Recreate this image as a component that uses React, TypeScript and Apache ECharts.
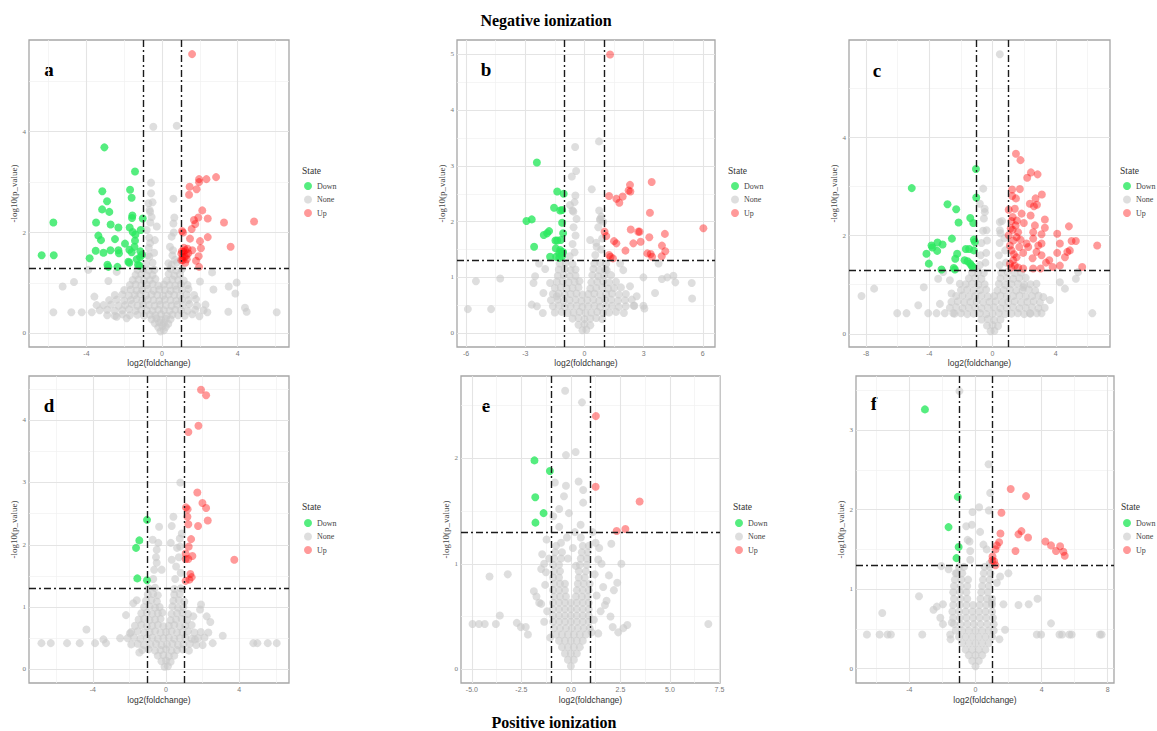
import React, { useEffect, useRef } from "react";
import * as echarts from "echarts";

// ---------- tick values ----------
const xTicksA = [-4, 0, 4];
const xMinorA = [-6, -2, 2, 6];
const yTicksA = [0, 2, 4];
const yMinorA = [1, 3, 5];

const xTicksB = [-6, -3, 0, 3, 6];
const xMinorB = [-4.5, -1.5, 1.5, 4.5];
const yTicksB = [0, 1, 2, 3, 4, 5];
const yMinorB = [0.5, 1.5, 2.5, 3.5, 4.5];

const xTicksC = [-8, -4, 0, 4];
const xMinorC = [-6, -2, 2, 6];
const yTicksC = [0, 2, 4];
const yMinorC = [1, 3, 5];

const xTicksD = [-4, 0, 4];
const xMinorD = [-6, -2, 2, 6];
const yTicksD = [0, 1, 2, 3, 4];
const yMinorD = [0.5, 1.5, 2.5, 3.5, 4.5];

const xTicksE = [-5, -2.5, 0, 2.5, 5, 7.5];
const xMinorE = [-3.75, -1.25, 1.25, 3.75, 6.25];
const yTicksE = [0, 1, 2];
const yMinorE = [0.5, 1.5, 2.5];

const xTicksF = [-4, 0, 4, 8];
const xMinorF = [-6, -2, 2, 6];
const yTicksF = [0, 1, 2, 3];
const yMinorF = [0.5, 1.5, 2.5, 3.5];

const legendItems = ["Down", "None", "Up"];
const panelLetters = ["a", "b", "c", "d", "e", "f"];
const fcCut = 1;
const pCut = 1.301;

// ---------- data (flat x,y pairs) ----------
const downA = [-3.05,3.69, -1.43,3.21, -3.16,2.82, -1.69,2.85, -1.61,2.69, -2.91,2.62, -3.17,2.46, -2.79,2.41, -1.57,2.34, -1.59,2.29, -1.02,2.28, -5.75,2.20, -3.49,2.20, -2.72,2.16, -2.31,2.10, -1.71,2.10, -1.13,2.05, -1.55,2.01, -1.41,1.96, -3.37,1.94, -3.23,1.85, -2.49,1.87, -1.43,1.84, -1.96,1.78, -1.46,1.72, -2.73,1.65, -2.31,1.65, -1.73,1.66, -1.15,1.63, -3.51,1.64, -3.10,1.60, -2.28,1.59, -1.61,1.61, -6.37,1.55, -5.73,1.55, -3.83,1.49, -1.16,1.51, -1.78,1.42, -1.73,1.40, -1.27,1.36, -2.89,1.36, -2.36,1.32, -2.84,1.32, -1.20,1.34, -1.06,1.56, -1.34,1.47];
const upA = [1.59,5.54, 2.86,3.10, 2.35,3.06, 1.96,3.06, 1.96,3.00, 1.46,2.91, 1.83,2.86, 1.43,2.75, 2.13,2.44, 1.92,2.30, 1.69,2.25, 2.42,2.28, 3.28,2.20, 4.87,2.22, 1.76,2.17, 1.57,2.07, 1.06,2.03, 1.11,2.00, 2.42,1.91, 1.48,1.88, 2.01,1.83, 3.63,1.72, 1.16,1.70, 1.23,1.65, 2.06,1.69, 1.60,1.65, 1.02,1.58, 1.94,1.53, 1.09,1.51, 1.31,1.47, 1.80,1.44, 1.23,1.40, 1.02,1.45, 1.96,1.32, 1.39,1.59, 1.05,1.63, 1.15,1.62, 1.30,1.55, 1.10,1.45, 1.35,1.68, 1.20,1.52];
const noneA = [-0.46,4.10, 0.78,4.12, -0.58,2.99, 0.60,2.67, -0.58,2.78, -0.72,2.58, -0.63,2.41, -0.55,2.31, -0.81,2.05, -0.28,2.12, 0.60,2.18, 0.51,1.92, -0.63,1.79, 0.42,1.72, -0.67,1.52, 0.69,1.46, 0.34,1.39,
 -5.26,0.93, -4.66,1.02, -5.75,0.42, -4.80,0.42, -4.25,0.42, -3.72,0.42, -3.90,1.26, -3.58,0.73, -3.46,0.56, -2.84,1.04, -2.40,1.22, -2.40,0.33, -1.87,0.30,
 3.53,0.93, 3.95,1.01, 3.88,0.79, 4.39,0.51, 4.48,0.43, 3.51,0.43, 6.07,0.42, 2.40,0.42, 1.98,0.34, 2.72,0.87, 2.65,1.21, 2.01,1.03,
 -0.08,0.04, 0.10,0.06, -0.20,0.12, 0.20,0.13, 0.02,0.15, -0.38,0.20, -0.15,0.22, 0.10,0.21, 0.33,0.19,
 -0.55,0.28, -0.30,0.30, -0.05,0.27, 0.20,0.29, 0.45,0.28,
 -2.9,0.36, -2.5,0.35, -2.1,0.38, -1.7,0.36, -1.3,0.37, -0.95,0.35, -0.65,0.37, -0.35,0.36, -0.05,0.38, 0.25,0.35, 0.55,0.37, 0.85,0.36, 1.2,0.35, 1.6,0.38,
 -3.3,0.46, -2.9,0.47, -2.5,0.45, -2.1,0.46, -1.75,0.48, -1.4,0.45, -1.1,0.47, -0.8,0.46, -0.5,0.45, -0.2,0.47, 0.1,0.46, 0.4,0.45, 0.7,0.47, 1.0,0.46, 1.35,0.45, 1.75,0.47, 2.2,0.46,
 -3.1,0.56, -2.7,0.57, -2.3,0.55, -1.95,0.56, -1.6,0.58, -1.3,0.55, -1.0,0.57, -0.7,0.56, -0.4,0.55, -0.1,0.57, 0.2,0.56, 0.5,0.55, 0.8,0.57, 1.1,0.56, 1.45,0.58, 1.85,0.55, 2.3,0.57,
 -2.8,0.66, -2.4,0.67, -2.0,0.65, -1.65,0.66, -1.35,0.68, -1.05,0.65, -0.75,0.67, -0.45,0.66, -0.15,0.65, 0.15,0.67, 0.45,0.66, 0.75,0.65, 1.05,0.67, 1.4,0.66, 1.8,0.68,
 -2.5,0.76, -2.1,0.77, -1.75,0.75, -1.45,0.76, -1.15,0.78, -0.85,0.75, -0.55,0.77, -0.25,0.76, 0.05,0.75, 0.35,0.77, 0.65,0.76, 0.95,0.75, 1.3,0.77, 1.7,0.76,
 -2.0,0.86, -1.65,0.87, -1.35,0.85, -1.05,0.86, -0.75,0.88, -0.45,0.85, -0.15,0.87, 0.15,0.86, 0.45,0.85, 0.75,0.87, 1.05,0.86, 1.4,0.88,
 -1.7,0.96, -1.4,0.97, -1.1,0.95, -0.8,0.96, -0.5,0.98, -0.2,0.95, 0.1,0.97, 0.4,0.96, 0.7,0.95, 1.0,0.97, 1.35,0.96,
 -1.55,1.06, -1.25,1.07, -0.95,1.05, -0.65,1.06, -0.35,1.08, 0.25,1.05, 0.55,1.07, 0.85,1.06, 1.15,1.05,
 -1.4,1.16, -1.1,1.17, -0.8,1.15, -0.5,1.16, 0.35,1.18, 0.65,1.15, 0.95,1.17,
 -1.3,1.26, -1.0,1.27, -0.7,1.25, -0.4,1.26, 0.45,1.28, 0.75,1.25, 1.05,1.27,
 -0.85,1.38, -0.5,1.40, 0.5,1.36, 0.8,1.41, -0.75,1.55, -0.42,1.60, 0.55,1.55, -0.7,1.70, -0.38,1.85, 0.58,1.65, -0.68,1.90, 0.62,2.00, -0.62,2.20, 0.65,2.30, -0.66,2.45, -0.5,2.60];

const downB = [-2.41,3.06, -1.38,2.54, -1.05,2.50, -1.54,2.25, -1.23,2.20, -1.13,2.21, -2.67,2.04, -2.94,2.01, -1.13,1.98, -1.79,1.83, -1.89,1.79, -2.06,1.76, -1.08,1.79, -1.20,1.67, -1.47,1.66, -1.38,1.66, -2.55,1.55, -1.45,1.52, -1.23,1.49, -1.16,1.46, -1.27,1.43, -1.08,1.45, -1.74,1.37, -1.43,1.37, -1.27,1.35, -1.13,1.38];
const upB = [1.30,5.00, 3.41,2.71, 2.31,2.66, 2.24,2.56, 2.33,2.54, 1.25,2.46, 1.94,2.45, 1.62,2.41, 1.77,2.34, 3.32,2.16, 6.03,1.88, 2.35,1.86, 2.73,1.82, 4.08,1.78, 1.02,1.82, 1.11,1.74, 1.50,1.65, 1.62,1.61, 2.48,1.61, 2.85,1.64, 3.29,1.72, 3.93,1.57, 4.10,1.47, 2.08,1.48, 3.19,1.43, 3.36,1.42, 1.25,1.40, 1.32,1.37, 1.45,1.34, 3.92,1.38, 3.43,1.37, 2.80,1.82];
const noneB = [0.74,3.44, -0.47,3.34, -0.42,2.91, -0.64,2.81, 0.37,2.58, -0.46,2.47, -0.73,2.30, -0.56,2.18, 0.79,2.03, 0.86,2.09, 0.29,1.67, 0.62,1.55,
 -5.91,0.43, -5.50,0.93, -4.73,0.43, -4.27,0.98, -2.50,1.02, -2.58,0.90, -1.99,1.15, -2.67,0.51, -2.41,0.48, -2.11,0.36, -2.08,0.72, -2.30,1.25,
 3.76,1.25, 4.20,1.00, 4.51,1.03, 4.61,0.91, 5.44,0.90, 5.46,0.62, 3.58,0.72, 3.93,0.97, 2.99,1.00, 3.04,0.44, 2.65,0.66, 2.31,0.84, 1.97,1.13, 1.81,1.25, 2.53,0.49, 2.99,0.49, 1.13,1.13, -1.40,0.66, -1.74,0.90,
 -0.1,0.05, 0.1,0.06, -0.3,0.15, 0.0,0.16, 0.3,0.14,
 -0.6,0.26, -0.3,0.27, 0.0,0.25, 0.3,0.26, 0.6,0.27, 0.9,0.25,
 -1.5,0.37, -1.15,0.38, -0.85,0.36, -0.55,0.37, -0.25,0.38, 0.05,0.36, 0.35,0.37, 0.65,0.38, 0.95,0.36, 1.25,0.37, 1.6,0.38, 2.0,0.36,
 -1.6,0.48, -1.3,0.49, -1.0,0.47, -0.7,0.48, -0.4,0.49, -0.1,0.47, 0.2,0.48, 0.5,0.49, 0.8,0.47, 1.1,0.48, 1.4,0.49, 1.75,0.47, 2.1,0.48, 2.5,0.49,
 -1.7,0.59, -1.35,0.60, -1.05,0.58, -0.75,0.59, -0.45,0.60, -0.15,0.58, 0.15,0.59, 0.45,0.60, 0.75,0.58, 1.05,0.59, 1.35,0.60, 1.7,0.58, 2.05,0.59, 2.4,0.60,
 -1.6,0.70, -1.3,0.71, -1.0,0.69, -0.7,0.70, -0.4,0.71, -0.1,0.69, 0.2,0.70, 0.5,0.71, 0.8,0.69, 1.1,0.70, 1.4,0.71, 1.75,0.69, 2.1,0.70,
 -1.5,0.81, -1.2,0.82, -0.9,0.80, -0.6,0.81, -0.3,0.82, 0.3,0.80, 0.6,0.81, 0.9,0.82, 1.2,0.80, 1.5,0.81, 1.85,0.82,
 -1.4,0.92, -1.1,0.93, -0.8,0.91, -0.5,0.92, -0.25,0.93, 0.35,0.91, 0.65,0.92, 0.95,0.93, 1.25,0.91, 1.6,0.92,
 -1.35,1.03, -1.05,1.04, -0.75,1.02, -0.45,1.03, 0.4,1.04, 0.7,1.02, 1.0,1.03, 1.35,1.04,
 -1.3,1.14, -1.0,1.15, -0.7,1.13, -0.45,1.14, 0.45,1.15, 0.75,1.13, 1.05,1.14,
 -1.25,1.25, -0.95,1.26, -0.6,1.24, 0.5,1.25, 0.8,1.26, 1.1,1.24,
 -0.75,1.38, -0.5,1.45, 0.55,1.40, 0.85,1.50, -0.6,1.60, -0.45,1.75, 0.6,1.62, 0.9,1.70, -0.55,1.90, -0.4,2.05, 0.7,1.90, 0.8,2.05, -0.6,2.20, 0.75,2.20, -0.5,2.35, 0.95,2.00];

const downC = [-5.11,2.97, -1.05,3.36, -1.03,2.78, -2.85,2.64, -2.30,2.54, -1.41,2.36, -1.22,2.26, -2.15,2.27, -2.57,1.94, -1.18,1.92, -1.12,1.87, -3.48,1.86, -3.86,1.80, -3.16,1.82, -3.80,1.76, -3.50,1.69, -4.18,1.63, -2.24,1.63, -1.69,1.73, -1.48,1.73, -1.18,1.70, -2.36,1.53, -1.77,1.50, -1.58,1.48, -1.41,1.43, -4.03,1.43, -1.24,1.36, -2.45,1.34, -3.23,1.31, -1.33,1.39, -2.38,1.31];
const upC = [1.48,3.67, 1.77,3.54, 2.43,3.29, 2.85,3.25, 2.19,3.18, 1.73,2.95, 1.24,2.94, 3.12,2.84, 2.72,2.76, 1.48,2.76, 1.24,2.81, 2.36,2.65, 2.81,2.63, 2.62,2.60, 1.41,2.55, 1.02,2.53, 1.84,2.45, 2.41,2.41, 1.27,2.38, 1.54,2.31, 1.98,2.26, 3.31,2.33, 1.46,2.21, 2.68,2.21, 3.31,2.16, 1.27,2.12, 4.83,2.19, 1.62,2.07, 2.57,2.07, 4.09,2.04, 1.02,2.01, 1.52,1.97, 1.31,1.90, 1.77,1.92, 2.57,1.94, 2.15,1.84, 3.10,2.03, 3.10,1.84, 4.26,1.84, 5.00,1.89, 5.27,1.89, 6.62,1.80, 1.10,1.80, 1.69,1.77, 2.26,1.77, 2.89,1.80, 1.20,1.70, 1.94,1.65, 2.78,1.67, 4.09,1.65, 4.73,1.67, 4.89,1.70, 4.58,1.56, 1.52,1.56, 2.53,1.54, 3.10,1.60, 1.31,1.50, 3.59,1.50, 3.38,1.45, 4.26,1.39, 3.80,1.36, 5.67,1.36, 1.41,1.39, 1.62,1.35, 2.57,1.33, 3.04,1.33, 1.10,1.43, 1.94,1.33, 1.20,2.30, 1.15,2.15, 1.35,1.62, 1.18,1.35];
const noneC = [0.46,5.70, -0.59,2.96, 0.46,2.28, -0.80,2.65, -0.49,2.48, 0.46,2.11, -0.38,2.11,
 -8.29,0.77, -7.49,0.92, -6.03,0.42, -5.44,0.42, -4.35,0.95, -4.70,0.58, -4.07,0.42, -3.54,0.42, -3.02,0.42, -2.49,0.42, -3.33,0.61, -3.44,1.12, -3.12,1.26,
 4.26,1.05, 4.58,0.92, 5.27,1.12, 5.42,1.26, 6.31,0.42, 3.21,0.75, 3.63,0.69, 3.10,0.42, 2.36,0.42, 2.78,1.02, 1.94,0.95, -2.59,0.82, -2.07,1.02, -2.70,1.09,
 -0.12,0.05, 0.12,0.06, -0.35,0.17, 0.0,0.18, 0.35,0.16,
 -0.7,0.29, -0.3,0.30, 0.1,0.28, 0.5,0.29,
 -2.4,0.41, -2.0,0.42, -1.6,0.40, -1.2,0.41, -0.8,0.42, -0.4,0.40, 0.0,0.41, 0.4,0.42, 0.8,0.40, 1.2,0.41, 1.6,0.42, 2.0,0.40, 2.4,0.41, 2.8,0.42,
 -2.7,0.53, -2.3,0.54, -1.9,0.52, -1.5,0.53, -1.1,0.54, -0.7,0.52, -0.3,0.53, 0.1,0.54, 0.5,0.52, 0.9,0.53, 1.3,0.54, 1.7,0.52, 2.1,0.53, 2.5,0.54, 2.9,0.52, 3.3,0.53,
 -2.6,0.65, -2.2,0.66, -1.8,0.64, -1.4,0.65, -1.0,0.66, -0.6,0.64, -0.2,0.65, 0.2,0.66, 0.6,0.64, 1.0,0.65, 1.4,0.66, 1.8,0.64, 2.2,0.65, 2.6,0.66, 3.0,0.64,
 -2.3,0.77, -1.9,0.78, -1.5,0.76, -1.1,0.77, -0.7,0.78, -0.3,0.76, 0.1,0.77, 0.5,0.78, 0.9,0.76, 1.3,0.77, 1.7,0.78, 2.1,0.76, 2.5,0.77, 2.9,0.78,
 -2.0,0.89, -1.6,0.90, -1.2,0.88, -0.8,0.89, -0.4,0.90, 0.3,0.88, 0.7,0.89, 1.1,0.90, 1.5,0.88, 1.9,0.89, 2.3,0.90, 2.7,0.88,
 -1.7,1.01, -1.3,1.02, -0.9,1.00, -0.5,1.01, 0.4,1.02, 0.8,1.00, 1.2,1.01, 1.6,1.02, 2.0,1.00, 2.4,1.01,
 -1.5,1.13, -1.1,1.14, -0.7,1.12, 0.5,1.13, 0.9,1.14, 1.3,1.12, 1.7,1.13, 2.1,1.14,
 -1.3,1.25, -0.9,1.26, -0.55,1.24, 0.55,1.25, 0.95,1.26, 1.4,1.24, 1.8,1.25,
 -0.8,1.40, -0.45,1.45, 0.45,1.40, 0.85,1.45, -0.75,1.60, -0.4,1.65, 0.4,1.60, 0.8,1.70, -0.7,1.85, -0.35,1.90, 0.45,1.85, 0.75,1.95, -0.6,2.10, 0.5,2.05, -0.55,2.35, 0.6,2.30, -0.5,2.55];

const downD = [-1.04,2.40, -1.46,2.07, -1.64,1.95, -1.57,1.46, -1.04,1.43];
const upD = [1.91,4.49, 2.19,4.40, 1.77,3.91, 1.22,3.81, 1.71,2.84, 1.99,2.67, 1.09,2.60, 1.18,2.57, 2.19,2.59, 1.17,2.45, 2.28,2.39, 1.22,2.33, 1.75,2.30, 1.37,2.09, 1.24,1.97, 1.07,1.86, 1.44,1.82, 3.73,1.76, 1.07,1.77, 1.22,1.77, 1.33,1.53, 1.40,1.48, 1.07,1.42, 1.28,1.44];
const noneD = [0.78,3.00, 0.40,2.45, 0.31,2.30, -0.38,2.29, -0.42,2.03, -0.73,2.08, 0.26,2.03, 0.77,1.97, -0.51,1.71, -0.24,1.60, 0.31,1.76, 0.86,2.18, -0.51,1.92,
 -6.81,0.42, -6.30,0.42, -5.41,0.42, -4.72,0.42, -3.88,0.42, -3.28,0.42, -3.42,0.48, -4.35,0.64, -2.51,0.50, -2.19,0.87, -1.79,1.06, -1.60,1.11,
 4.77,0.42, 4.99,0.42, 5.56,0.42, 6.05,0.42, 3.10,0.54, 2.55,0.42, 2.31,0.59, 2.42,0.76, 2.22,0.85, 1.91,1.04, 1.86,0.96, 2.00,0.39, 1.58,0.48, 1.49,0.85, -1.46,0.27, -1.97,0.58,
 -0.08,0.04, 0.10,0.05, -0.25,0.13, 0.0,0.14, 0.25,0.12,
 -0.45,0.22, -0.15,0.23, 0.15,0.21, 0.45,0.22,
 -1.3,0.31, -0.95,0.32, -0.6,0.30, -0.3,0.31, 0.0,0.32, 0.3,0.30, 0.6,0.31, 0.9,0.32, 1.25,0.30,
 -1.9,0.40, -1.55,0.41, -1.2,0.39, -0.85,0.40, -0.55,0.41, -0.25,0.39, 0.05,0.40, 0.35,0.41, 0.65,0.39, 0.95,0.40, 1.3,0.41, 1.65,0.39,
 -2.1,0.50, -1.75,0.51, -1.4,0.49, -1.05,0.50, -0.75,0.51, -0.45,0.49, -0.15,0.50, 0.15,0.51, 0.45,0.49, 0.75,0.50, 1.05,0.51, 1.4,0.49, 1.75,0.50, 2.1,0.51,
 -1.9,0.60, -1.55,0.61, -1.2,0.59, -0.9,0.60, -0.6,0.61, -0.3,0.59, 0.0,0.60, 0.3,0.61, 0.6,0.59, 0.9,0.60, 1.2,0.61, 1.55,0.59, 1.9,0.60,
 -1.7,0.70, -1.35,0.71, -1.05,0.69, -0.75,0.70, -0.45,0.71, -0.15,0.69, 0.15,0.70, 0.45,0.71, 0.75,0.69, 1.05,0.70, 1.4,0.71,
 -1.5,0.80, -1.2,0.81, -0.9,0.79, -0.6,0.80, -0.3,0.81, 0.25,0.79, 0.55,0.80, 0.85,0.81, 1.15,0.79,
 -1.35,0.90, -1.05,0.91, -0.75,0.89, -0.45,0.90, -0.2,0.91, 0.3,0.89, 0.6,0.90, 0.9,0.91, 1.2,0.89,
 -1.2,1.00, -0.9,1.01, -0.6,0.99, -0.35,1.00, 0.35,1.01, 0.65,0.99, 0.95,1.00,
 -1.1,1.10, -0.8,1.11, -0.5,1.09, 0.4,1.10, 0.7,1.11, 1.0,1.09,
 -1.0,1.20, -0.7,1.21, -0.45,1.19, 0.45,1.20, 0.75,1.21,
 -0.95,1.30, -0.6,1.31, 0.45,1.29, 0.8,1.30,
 -0.7,1.45, 0.5,1.45, 0.8,1.55, -0.65,1.60, 0.55,1.65, 0.7,1.80, -0.55,1.80, 0.6,1.95, 0.75,2.10];

const downE = [-1.84,1.98, -1.06,1.88, -1.80,1.63, -1.38,1.48, -1.79,1.39];
const upE = [1.26,2.40, 1.25,1.73, 3.47,1.59, 2.75,1.33, 2.31,1.31];
const noneE = [-0.29,2.64, 0.56,2.53, 0.24,2.06, -0.25,2.03, -0.81,1.77, -0.25,1.74, 0.39,1.78, 0.62,1.70, 0.62,1.58, -0.35,1.64, -0.10,1.48, -0.59,1.52, -0.89,1.45, 0.49,1.37, -0.59,1.35,
 -4.11,0.88, -3.19,0.90, -3.59,0.51, -4.97,0.43, -4.64,0.43, -4.35,0.43, -3.79,0.43, -2.73,0.44, -2.53,0.40, -2.28,0.40, -2.17,0.33, -1.74,0.69, -1.60,0.63, -1.87,0.74, -1.45,1.09, -1.35,1.00, -1.26,0.92, -1.23,1.23,
 6.94,0.43, 2.55,1.00, 1.92,0.89, 2.34,0.82, 2.17,0.75, 1.63,0.78, 1.72,0.61, 2.11,0.40, 2.39,0.35, 2.65,0.39, 2.85,0.42, 2.04,1.19, 1.43,1.15, 1.38,1.04, 1.16,0.47, 1.38,0.34,
 0.0,0.03, -0.15,0.09, 0.15,0.09, -0.3,0.15, 0.0,0.15, 0.3,0.15,
 -0.45,0.21, -0.15,0.21, 0.15,0.21, 0.45,0.21,
 -0.6,0.27, -0.3,0.27, 0.0,0.27, 0.3,0.27, 0.6,0.27,
 -0.75,0.33, -0.45,0.33, -0.15,0.33, 0.15,0.33, 0.45,0.33, 0.75,0.33,
 -0.85,0.39, -0.55,0.39, -0.25,0.39, 0.05,0.39, 0.35,0.39, 0.65,0.39, 0.95,0.39,
 -0.9,0.45, -0.6,0.45, -0.3,0.45, 0.0,0.45, 0.3,0.45, 0.6,0.45, 0.9,0.45,
 -0.9,0.51, -0.6,0.51, -0.3,0.51, 0.0,0.51, 0.3,0.51, 0.6,0.51, 0.9,0.51,
 -0.9,0.57, -0.6,0.57, -0.3,0.57, 0.0,0.57, 0.3,0.57, 0.6,0.57, 0.9,0.57,
 -0.9,0.63, -0.6,0.63, -0.3,0.63, 0.0,0.63, 0.3,0.63, 0.6,0.63, 0.9,0.63,
 -0.85,0.69, -0.55,0.69, -0.25,0.69, 0.25,0.69, 0.55,0.69, 0.85,0.69,
 -0.9,0.75, -0.6,0.75, -0.3,0.75, 0.3,0.75, 0.6,0.75, 0.9,0.75,
 -0.85,0.81, -0.55,0.81, -0.3,0.81, 0.35,0.81, 0.65,0.81, 0.95,0.81,
 -0.9,0.87, -0.6,0.87, 0.4,0.87, 0.7,0.87,
 -0.85,0.93, -0.55,0.93, 0.4,0.93, 0.75,0.93,
 -0.9,0.99, -0.6,0.99, 0.45,0.99, 0.8,0.99,
 -0.85,1.05, -0.5,1.05, 0.5,1.05, 0.8,1.05,
 -0.8,1.11, -0.45,1.11, 0.55,1.11, 0.85,1.11,
 -0.75,1.17, 0.6,1.17, 0.9,1.17,
 -1.1,1.05, -1.3,0.80, -1.5,0.95, -1.2,0.55, -1.35,0.45, -1.5,0.62, 1.2,0.90, 1.3,0.70, 1.5,0.55, 1.25,1.20, 1.1,1.30, 1.55,1.00, 1.8,0.65, 2.0,0.50, 1.05,0.35, -1.05,0.30, -0.2,1.25, 0.2,1.30, -0.5,1.20, 0.5,1.25, 0.1,1.15, -0.15,1.05, 0.25,0.98];

const downF = [-3.06,3.26, -1.07,2.16, -1.63,1.78, -1.02,1.53, -1.15,1.39];
const upF = [2.13,2.26, 3.06,2.17, 1.57,1.96, 1.51,1.70, 2.60,1.69, 2.78,1.73, 3.18,1.65, 4.23,1.60, 4.57,1.55, 5.12,1.54, 4.87,1.48, 5.32,1.47, 5.40,1.42, 1.43,1.59, 1.29,1.55, 1.21,1.50, 2.42,1.48, 1.03,1.41, 1.13,1.35, 1.21,1.30, 1.01,1.36];
const noneF = [-0.97,3.49, 0.79,2.57, 0.89,2.21, 0.22,2.03, -0.18,1.97, 0.81,1.99, -0.22,1.81, -0.56,1.79, 0.28,1.72, -0.48,1.62, -0.36,1.60, -0.32,1.48, 0.48,1.56, -0.32,1.37, 0.68,1.50,
 -3.42,0.91, -5.64,0.70, -6.57,0.43, -5.80,0.43, -5.32,0.43, -5.12,0.43, -3.22,0.43, -2.54,0.74, -2.34,0.78, -1.97,0.81, -2.13,0.64, -1.97,0.56, -1.53,0.43, -1.51,0.37, -1.43,0.58, -2.07,1.29, -1.63,1.25, -1.13,1.20,
 1.69,0.81, 2.60,0.80, 3.22,0.81, 3.75,0.88, 4.57,0.57, 1.79,0.49, 1.45,0.37, 3.71,0.43, 3.97,0.43, 5.08,0.43, 5.24,0.43, 5.68,0.43, 5.82,0.43, 7.53,0.43, 7.63,0.43, 1.99,1.20, 1.49,1.16, 1.29,1.08, 0.99,0.83, 0.85,1.32,
 0.0,0.03, -0.2,0.10, 0.2,0.10, -0.4,0.17, 0.0,0.17, 0.4,0.17,
 -0.6,0.24, -0.2,0.24, 0.2,0.24, 0.6,0.24,
 -0.8,0.32, -0.4,0.32, 0.0,0.32, 0.4,0.32, 0.8,0.32,
 -1.0,0.40, -0.6,0.40, -0.2,0.40, 0.2,0.40, 0.6,0.40, 1.0,0.40,
 -1.2,0.48, -0.8,0.48, -0.4,0.48, 0.0,0.48, 0.4,0.48, 0.8,0.48, 1.1,0.48,
 -1.3,0.56, -0.9,0.56, -0.5,0.56, -0.1,0.56, 0.3,0.56, 0.7,0.56, 1.1,0.56,
 -1.35,0.64, -0.95,0.64, -0.55,0.64, -0.15,0.64, 0.25,0.64, 0.65,0.64, 1.05,0.64,
 -1.4,0.72, -1.0,0.72, -0.6,0.72, -0.2,0.72, 0.2,0.72, 0.6,0.72, 1.0,0.72,
 -1.35,0.80, -0.95,0.80, -0.55,0.80, -0.15,0.80, 0.25,0.80, 0.65,0.80, 1.0,0.80,
 -1.3,0.88, -0.9,0.88, -0.5,0.88, 0.3,0.88, 0.7,0.88, 1.0,0.88,
 -1.35,0.96, -0.95,0.96, -0.55,0.96, 0.35,0.96, 0.75,0.96,
 -1.3,1.04, -0.9,1.04, -0.5,1.04, 0.4,1.04, 0.8,1.04,
 -1.25,1.12, -0.85,1.12, -0.45,1.12, 0.45,1.12, 0.85,1.12,
 -1.2,1.20, -0.8,1.20, 0.5,1.20, 0.9,1.20,
 -1.0,1.28, -0.7,1.28, 0.55,1.28, 0.85,1.28];

// ---------- helpers ----------
const pairs = (f: number[]) => {
  const out: number[][] = [];
  for (let i = 0; i < f.length; i += 2) out.push([f[i], f[i + 1]]);
  return out;
};

// layout (pixels) and axis ranges
const panels = [
  { grid: { left: 29, top: 40, width: 260, height: 307 }, x: [-7.04, 6.72], y: [-0.27, 5.82], xt: xTicksA, xm: xMinorA, yt: yTicksA, ym: yMinorA, down: downA, none: noneA, up: upA, lg: [308, 186, 302, 172], letter: [49, 69], yGap: 8, dec: 0 },
  { grid: { left: 457, top: 40, width: 258, height: 307 }, x: [-6.46, 6.62], y: [-0.25, 5.26], xt: xTicksB, xm: xMinorB, yt: yTicksB, ym: yMinorB, down: downB, none: noneB, up: upB, lg: [735, 186, 728, 172], letter: [486, 69], yGap: 10, dec: 0 },
  { grid: { left: 849, top: 40, width: 261, height: 307 }, x: [-9.08, 7.43], y: [-0.27, 5.99], xt: xTicksC, xm: xMinorC, yt: yTicksC, ym: yMinorC, down: downC, none: noneC, up: upC, lg: [1127, 186, 1120, 172], letter: [877, 70], yGap: 8, dec: 0 },
  { grid: { left: 29, top: 376, width: 260, height: 307 }, x: [-7.49, 6.72], y: [-0.22, 4.71], xt: xTicksD, xm: xMinorD, yt: yTicksD, ym: yMinorD, down: downD, none: noneD, up: upD, lg: [308, 523, 302, 508], letter: [49, 405], yGap: 8, dec: 0 },
  { grid: { left: 461, top: 376, width: 259, height: 307 }, x: [-5.55, 7.53], y: [-0.13, 2.78], xt: xTicksE, xm: xMinorE, yt: yTicksE, ym: yMinorE, down: downE, none: noneE, up: upE, lg: [739, 523, 733, 508], letter: [486, 405], yGap: 8.5, dec: 1 },
  { grid: { left: 856, top: 376, width: 258, height: 307 }, x: [-7.23, 8.38], y: [-0.18, 3.68], xt: xTicksF, xm: xMinorF, yt: yTicksF, ym: yMinorF, down: downF, none: noneF, up: upF, lg: [1127, 523, 1121, 508], letter: [874, 403], yGap: 9.5, dec: 0 },
];

const GREEN = "#2be85f";
const RED = "rgba(255,0,0,0.5)";
const GRAY = "rgba(200,200,200,0.75)";
const SERIF = "Liberation Serif";
const SANS = "Liberation Sans";

export default function App() {
  const ref = useRef<HTMLDivElement>(null);
  useEffect(() => {
    if (!ref.current) return;
    const chart = echarts.init(ref.current, undefined, { renderer: "svg" });
    const grids: any[] = [];
    const xAxes: any[] = [];
    const yAxes: any[] = [];
    const series: any[] = [];
    const legends: any[] = [];
    const graphics: any[] = [];
    const major = { color: "#e4e4e4", width: 1.1, type: "solid" };
    const minor = { color: "#f0f0f0", width: 0.7, type: "solid" };

    panels.forEach((p, i) => {
      grids.push({ ...p.grid, show: true, borderColor: "#a6a6a6", borderWidth: 1.3, backgroundColor: "transparent", containLabel: false, outerBoundsMode: "none" });
      xAxes.push({
        type: "value", gridIndex: i, min: p.x[0], max: p.x[1],
        splitLine: { show: false }, axisLine: { show: false },
        axisTick: { show: true, customValues: p.xt, length: 3, lineStyle: { color: "#999" } },
        axisLabel: { customValues: p.xt, fontSize: 7, color: "#777", margin: 3, fontFamily: SANS, formatter: (v: number) => v.toFixed(p.dec) },
        name: "log2(foldchange)", nameLocation: "middle", nameGap: i < 3 ? 11 : 12,
        nameTextStyle: { fontFamily: SANS, fontSize: 8.5, color: "#333" },
      });
      yAxes.push({
        type: "value", gridIndex: i, min: p.y[0], max: p.y[1],
        splitLine: { show: false }, axisLine: { show: false },
        axisTick: { show: true, customValues: p.yt, length: 3, lineStyle: { color: "#999" } },
        axisLabel: { customValues: p.yt, fontSize: 7, color: "#777", margin: 3, fontFamily: SERIF },
        name: "-log10(p_value)", nameLocation: "middle", nameGap: p.yGap,
        nameTextStyle: { fontFamily: SERIF, fontSize: 9, color: "#444" },
      });
      series.push({
        type: "line", name: "grid" + i, xAxisIndex: i, yAxisIndex: i, data: [], silent: true,
        markLine: {
          silent: true, symbol: ["none", "none"], label: { show: false }, z: 1, animation: false,
          data: [
            ...p.xm.map((v) => ({ xAxis: v, lineStyle: minor })),
            ...p.ym.map((v) => ({ yAxis: v, lineStyle: minor })),
            ...p.xt.map((v) => ({ xAxis: v, lineStyle: major })),
            ...p.yt.map((v) => ({ yAxis: v, lineStyle: major })),
          ],
        },
      });
      series.push({ type: "scatter", name: "None", xAxisIndex: i, yAxisIndex: i, data: pairs(p.none), symbolSize: 8, itemStyle: { color: GRAY }, z: 2, silent: true });
      series.push({ type: "scatter", name: "Down", xAxisIndex: i, yAxisIndex: i, data: pairs(p.down), symbolSize: 8, itemStyle: { color: GREEN }, z: 3, silent: true });
      series.push({ type: "scatter", name: "Up", xAxisIndex: i, yAxisIndex: i, data: pairs(p.up), symbolSize: 8, itemStyle: { color: RED }, z: 3, silent: true });
      series.push({
        type: "line", name: "cut" + i, xAxisIndex: i, yAxisIndex: i, data: [], silent: true,
        markLine: {
          silent: true, symbol: ["none", "none"], label: { show: false }, z: 10, animation: false,
          lineStyle: { color: "#1a1a1a", width: 1.4, type: [7, 3, 2, 3] },
          data: [{ xAxis: -fcCut }, { xAxis: fcCut }, { yAxis: pCut }],
        },
      });
      legends.push({
        orient: "vertical", left: p.lg[0] - 4, top: p.lg[1] - 4, padding: 0,
        itemWidth: 8, itemHeight: 8, itemGap: 5.5, icon: "circle", selectedMode: false,
        data: legendItems,
        textStyle: { fontFamily: SERIF, fontSize: 8, color: "#444", lineHeight: 8 },
      });
      graphics.push({ type: "text", left: p.lg[2], top: p.lg[3] - 6, style: { text: "State", fontFamily: SERIF, fontSize: 9.5, fill: "#333" } });
      graphics.push({ type: "text", x: p.letter[0], y: p.letter[1], style: { text: panelLetters[i], fontFamily: SERIF, fontWeight: "bold", fontSize: 19, fill: "#000", align: "center", verticalAlign: "middle" } });
    });

    graphics.push({ type: "text", x: 546, y: 20, style: { text: "Negative ionization", fontFamily: SERIF, fontWeight: "bold", fontSize: 16, fill: "#000", align: "center", verticalAlign: "middle" } });
    graphics.push({ type: "text", x: 554, y: 722, style: { text: "Positive ionization", fontFamily: SERIF, fontWeight: "bold", fontSize: 16, fill: "#000", align: "center", verticalAlign: "middle" } });

    chart.setOption({
      animation: false,
      backgroundColor: "#ffffff",
      grid: grids,
      xAxis: xAxes,
      yAxis: yAxes,
      legend: legends,
      series,
      graphic: graphics,
    });
    return () => chart.dispose();
  }, []);
  return <div ref={ref} style={{ position: "fixed", left: 0, top: 0, width: 1157, height: 731, background: "#fff" }} />;
}
